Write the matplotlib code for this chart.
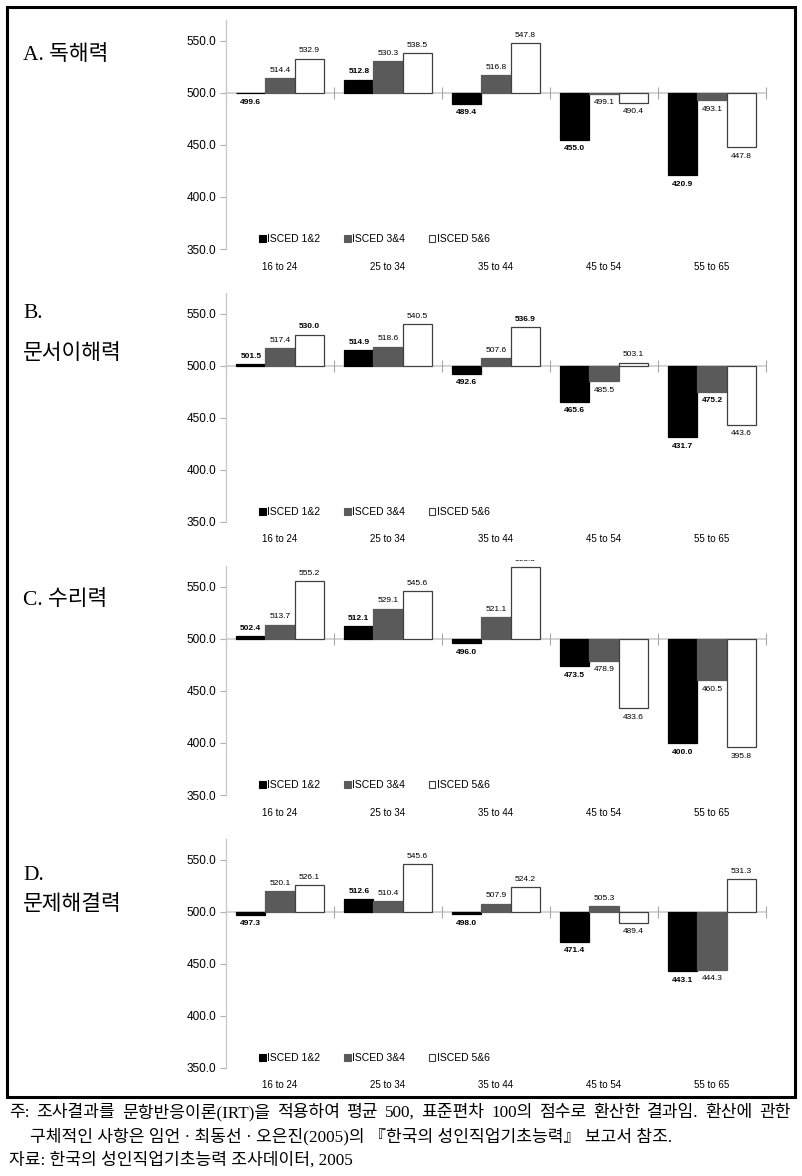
import numpy as np
import matplotlib.pyplot as plt
from matplotlib.patches import Patch, Rectangle

plt.rcParams['font.family'] = ['Liberation Sans', 'Noto Sans CJK KR']

# ==================== 데이터 ====================
age_groups = ['16 to 24', '25 to 34', '35 to 44', '45 to 54', '55 to 65']
series_names = ['ISCED 1&2', 'ISCED 3&4', 'ISCED 5&6']

# A. 독해력
reading_12 = [499.6, 512.8, 489.4, 455.0, 420.9]
reading_34 = [514.4, 530.3, 516.8, 499.1, 493.1]
reading_56 = [532.9, 538.5, 547.8, 490.4, 447.8]
# B. 문서이해력
document_12 = [501.5, 514.9, 492.6, 465.6, 431.7]
document_34 = [517.4, 518.6, 507.6, 485.5, 475.2]
document_56 = [530.0, 540.5, 536.9, 503.1, 443.6]
# C. 수리력
numeracy_12 = [502.4, 512.1, 496.0, 473.5, 400.0]
numeracy_34 = [513.7, 529.1, 521.1, 478.9, 460.5]
numeracy_56 = [555.2, 545.6, 568.8, 433.6, 395.8]
# D. 문제해결력
problem_12 = [497.3, 512.6, 498.0, 471.4, 443.1]
problem_34 = [520.1, 510.4, 507.9, 505.3, 444.3]
problem_56 = [526.1, 545.6, 524.2, 489.4, 531.3]

y_ticks = [350, 400, 450, 500, 550]
baseline = 500

notes = [
    '주: 조사결과를 문항반응이론(IRT)을 적용하여 평균 500, 표준편차 100의 점수로 환산한 결과임. 환산에 관한',
    '구체적인 사항은 임언 · 최동선 · 오은진(2005)의 『한국의 성인직업기초능력』 보고서 참조.',
    '자료: 한국의 성인직업기초능력 조사데이터, 2005',
]
# =============================================

W, H = 803, 1176
fig = plt.figure(figsize=(W / 100, H / 100), dpi=100)

def px_box(left, top, right, bottom):
    return [left / W, 1 - bottom / H, (right - left) / W, (bottom - top) / H]

panels = [
    (['A. 독해력'], [55], 249, (reading_12, reading_34, reading_56), set()),
    (['B.', '문서이해력'], [313, 354], 522, (document_12, document_34, document_56),
     {(2, 0), (2, 2), (1, 4)}),
    (['C. 수리력'], [600], 795, (numeracy_12, numeracy_34, numeracy_56), set()),
    (['D.', '문제해결력'], [875, 905], 1068, (problem_12, problem_34, problem_56), set()),
]

face = ['#000000', '#5a5a5a', '#ffffff']
edge = ['#000000', '#5a5a5a', '#404040']
width = 0.27
offsets = [-width, 0, width]
title_font = ['Liberation Serif', 'Noto Sans CJK KR']

for titles, ty, bottom_px, series, bold_extra in panels:
    ax = fig.add_axes(px_box(226, bottom_px - 229, 766, bottom_px))
    x = np.arange(len(age_groups))
    for j, vals in enumerate(series):
        vals = np.array(vals)
        ax.bar(x + offsets[j], vals - baseline, width, bottom=baseline,
               color=face[j], edgecolor=edge[j], linewidth=0.9, zorder=3)
        for i, v in enumerate(vals):
            bold = j == 0 or (j, i) in bold_extra
            up = v >= baseline
            t = ax.annotate(f'{v:.1f}', (x[i] + offsets[j], v),
                            xytext=(0, 3 if up else -4), textcoords='offset points',
                            ha='center', va='bottom' if up else 'top', fontsize=6,
                            fontweight='bold' if bold else 'normal', color='#000000')
            t.set_clip_path(Rectangle((0, 0), 1, 1.025, transform=ax.transAxes))

    # 500 기준선과 구간 눈금
    ax.axhline(baseline, color='#d4d4d4', lw=1.4, zorder=1)
    bounds = np.arange(len(age_groups) + 1) - 0.5
    ax.plot(bounds, [baseline] * len(bounds), ls='none', marker='|', ms=8,
            mew=0.8, color='#a8a8a8', zorder=1, clip_on=False)

    ax.set_xlim(-0.5, len(age_groups) - 0.5)
    ax.set_ylim(350, 570)
    ax.set_yticks(y_ticks)
    ax.set_yticklabels([f'{v:.1f}' for v in y_ticks], fontsize=8.5)
    ax.set_xticks(x)
    ax.set_xticklabels(age_groups, fontsize=7)
    ax.tick_params(axis='x', length=0, pad=9)
    ax.tick_params(axis='y', length=4, color='#b0b0b0', width=0.8, pad=3)
    for s in ['top', 'right', 'bottom']:
        ax.spines[s].set_visible(False)
    ax.spines['left'].set_color('#c8c8c8')
    ax.spines['left'].set_linewidth(0.9)

    handles = [Patch(facecolor=face[k], edgecolor=edge[k], lw=0.8) for k in range(3)]
    ax.legend(handles, series_names, loc='center left', bbox_to_anchor=(0.062, 0.044),
              ncol=3, frameon=False, fontsize=7.5, handlelength=0.6, handleheight=0.6,
              handletextpad=0.15, columnspacing=2.3, borderpad=0, borderaxespad=0)

    for txt, yy in zip(titles, ty):
        fig.text(23 / W, 1 - yy / H, txt, ha='left', va='center', fontsize=15.5,
                 family=title_font)

# 외곽 테두리
fig.patches.append(Rectangle((7 / W, 1 - 1097 / H), 788 / W, 1090 / H, fill=False,
                             lw=2.2, edgecolor='black', transform=fig.transFigure))

# 주석 (첫 줄은 양쪽 정렬)
renderer = fig.canvas.get_renderer()
note_font = dict(fontsize=12.3, family=title_font, va='center')
words = notes[0].split(' ')
objs = [fig.text(0, 1 - 1113 / H, w, ha='left', **note_font) for w in words]
widths = [o.get_window_extent(renderer).width for o in objs]
left, right = 9, 791
gap = (right - left - sum(widths)) / (len(words) - 1)
pos = left
for o, wd in zip(objs, widths):
    o.set_x(pos / W)
    pos += wd + gap
fig.text(30 / W, 1 - 1137 / H, notes[1], ha='left', **note_font)
fig.text(9 / W, 1 - 1160 / H, notes[2], ha='left', **note_font)

fig.savefig('out.png', dpi=100)
